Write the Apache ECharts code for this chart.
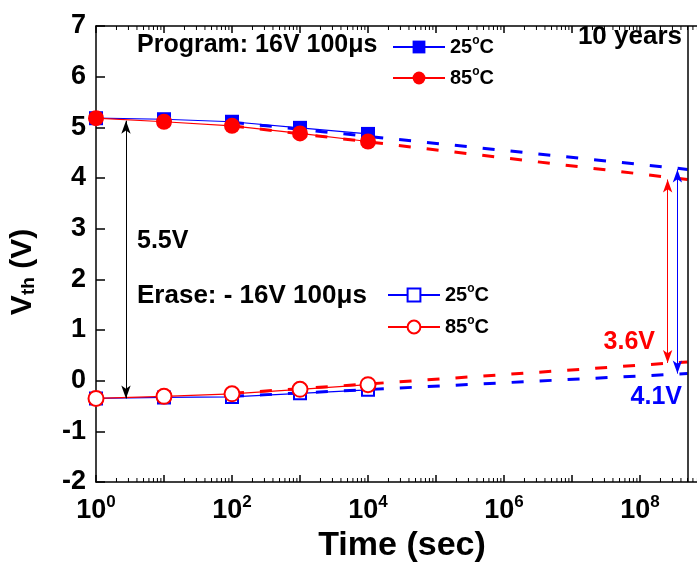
<!DOCTYPE html>
<html>
<head>
<meta charset="utf-8">
<script src="https://cdn.jsdelivr.net/npm/echarts@6/dist/echarts.min.js"></script>
<style>html,body{margin:0;padding:0;background:#fff}#c{width:697px;height:566px}</style>
</head>
<body>
<div id="c"></div>
<script>
// ---- data ----
var times = [1, 10, 100, 1000, 10000];
var prog25 = [5.18, 5.16, 5.11, 4.99, 4.87];
var prog85 = [5.18, 5.11, 5.03, 4.88, 4.72];
var erase25 = [-0.35, -0.33, -0.32, -0.25, -0.18];
var erase85 = [-0.35, -0.31, -0.26, -0.17, -0.08];
var fitTimes = [100, 5e8];
var progFit25 = [5.10, 4.17];
var progFit85 = [5.03, 3.97];
var eraseFit25 = [-0.31, 0.14];
var eraseFit85 = [-0.25, 0.37];
var tenYears = 5e8;
var windowTimes = [2.76, 2.55e8, 3.55e8];      // black, red, blue arrows
var windowTop = [5.13, 3.97, 4.17];
var windowBottom = [-0.35, 0.35, 0.14];
var minorMult = [2, 3, 4, 5, 6, 7, 8, 9];
var decades = [1, 10, 100, 1e3, 1e4, 1e5, 1e6, 1e7, 1e8];
var yTicks = [-2, -1, 0, 1, 2, 3, 4, 5, 6, 7];

function pairs(xs, ys) { return xs.map(function (x, i) { return [x, ys[i]]; }); }

var FONT = 'Arial, "Liberation Sans", sans-serif';
var BLUE = '#0000ff', RED = '#ff0000';

var chart = echarts.init(document.getElementById('c'), null, {renderer: 'canvas'});

var legendText = {
  color: '#000', fontFamily: FONT, fontWeight: 'bold', fontSize: 20,
  rich: {
    n: {fontFamily: FONT, fontWeight: 'bold', fontSize: 20, color: '#000'},
    s: {fontFamily: FONT, fontWeight: 'bold', fontSize: 12, color: '#000', padding: [0, 0, 12, 0]}
  }
};
function legendFmt() { return '{n|25}{s|o}{n|C}'; }
function legendFmt85() { return '{n|85}{s|o}{n|C}'; }
function mkLegend(name, left, top, fmt) {
  return {data: [name], left: left, top: top, padding: 0, itemWidth: 52, itemHeight: 16,
    textStyle: legendText, formatter: fmt, selectedMode: false};
}

var textGraphics = [
  {type: 'text', left: 137, top: 33, style: {text: 'Program: 16V 100μs', font: 'bold 25px ' + FONT, fill: '#000'}},
  {type: 'text', left: 137, top: 283, style: {text: 'Erase: - 16V 100μs', font: 'bold 26px ' + FONT, fill: '#000'}},
  {type: 'text', left: 137, top: 229, style: {text: '5.5V', font: 'bold 25px ' + FONT, fill: '#000'}},
  {type: 'text', right: 15, top: 24, style: {text: '10 years', font: 'bold 26px ' + FONT, fill: '#000'}},
  {type: 'text', right: 42, top: 330, style: {text: '3.6V', font: 'bold 25px ' + FONT, fill: RED}},
  {type: 'text', right: 15, top: 385, style: {text: '4.1V', font: 'bold 25px ' + FONT, fill: BLUE}}
];

var option = {
  animation: false,
  backgroundColor: '#fff',
  grid: {left: 96, top: 26, width: 612, bottom: 84, outerBoundsMode: 'none', containLabel: false},
  legend: [
    mkLegend('Program 25', 392, 35, legendFmt),
    mkLegend('Program 85', 392, 66, legendFmt85),
    mkLegend('Erase 25', 387, 283, legendFmt),
    mkLegend('Erase 85', 387, 315, legendFmt85)
  ],
  xAxis: [{
    type: 'log', logBase: 10, min: 1, max: 1e9, interval: 1,
    position: 'bottom',
    name: 'Time (sec)', nameLocation: 'middle', nameGap: 43,
    nameTextStyle: {fontFamily: FONT, fontWeight: 'bold', fontSize: 34, color: '#000'},
    axisLine: {onZero: false, lineStyle: {color: '#000', width: 1.5}},
    axisTick: {inside: true, length: 7, lineStyle: {color: '#000', width: 1.5}},
    splitLine: {show: false},
    axisLabel: {
      margin: 12, color: '#000',
      formatter: function (v) {
        var n = Math.round(Math.log(v) / Math.LN10);
        if (n % 2 !== 0) return '';
        return '{b|10}{s|' + n + '}';
      },
      rich: {
        b: {fontFamily: FONT, fontWeight: 'bold', fontSize: 27, color: '#000'},
        s: {fontFamily: FONT, fontWeight: 'bold', fontSize: 17, color: '#000', padding: [0, 0, 16, 0]}
      }
    }
  }, {
    type: 'log', logBase: 10, min: 1, max: 1e9, interval: 1,
    position: 'top',
    axisLine: {onZero: false, lineStyle: {color: '#000', width: 1.5}},
    axisTick: {inside: true, length: 7, lineStyle: {color: '#000', width: 1.5}},
    axisLabel: {show: false},
    splitLine: {show: false}
  }],
  yAxis: {
    type: 'value', min: yTicks[0], max: yTicks[yTicks.length - 1], interval: 1,
    name: '{v|V}{t|th}{v| (V)}', nameLocation: 'middle', nameGap: 58, nameRotate: 90,
    nameTextStyle: {
      padding: [0, 36, 0, 0],
      rich: {
        v: {fontFamily: FONT, fontWeight: 'bold', fontSize: 30, color: '#000'},
        t: {fontFamily: FONT, fontWeight: 'bold', fontSize: 19, color: '#000', padding: [12, 0, 0, 0]}
      }
    },
    axisLine: {show: true, onZero: false, lineStyle: {color: '#000', width: 1.5}},
    axisTick: {show: true, inside: true, length: 9, lineStyle: {color: '#000', width: 1.5}},
    splitLine: {show: false},
    axisLabel: {margin: 10, color: '#000', fontFamily: FONT, fontWeight: 'bold', fontSize: 27}
  },
  series: [
    {
      name: 'Program 25', type: 'line', data: pairs(times, prog25), z: 3,
      symbol: 'rect', symbolSize: 14, color: BLUE,
      lineStyle: {color: BLUE, width: 1.2}, itemStyle: {color: BLUE}
    },
    {
      name: 'Program 85', type: 'line', data: pairs(times, prog85), z: 4,
      symbol: 'circle', symbolSize: 16, color: RED,
      lineStyle: {color: RED, width: 1.2}, itemStyle: {color: RED}
    },
    {
      name: 'Erase 25', type: 'line', data: pairs(times, erase25), z: 3,
      symbol: 'emptyRect', symbolSize: 12, color: BLUE, showAllSymbol: true,
      lineStyle: {color: BLUE, width: 1.2}, itemStyle: {color: BLUE, borderWidth: 1}
    },
    {
      name: 'Erase 85', type: 'line', data: pairs(times, erase85), z: 4,
      symbol: 'emptyCircle', symbolSize: 15, color: RED,
      lineStyle: {color: RED, width: 1.2}, itemStyle: {color: RED, borderWidth: 1.2}
    },
    {
      name: 'fitP25', type: 'line', data: pairs(fitTimes, progFit25), z: 2, symbol: 'none',
      lineStyle: {color: BLUE, width: 3, type: [12, 16]},
      markLine: {
        silent: true, animation: false, label: {show: false},
        symbol: ['arrow', 'arrow'], symbolSize: [7, 13],
        data: [
          [{coord: [windowTimes[0], windowTop[0]], lineStyle: {color: '#000', width: 1, type: 'solid'}},
           {coord: [windowTimes[0], windowBottom[0]]}],
          [{coord: [windowTimes[1], windowTop[1]], lineStyle: {color: RED, width: 1, type: 'solid'}},
           {coord: [windowTimes[1], windowBottom[1]]}],
          [{coord: [windowTimes[2], windowTop[2]], lineStyle: {color: BLUE, width: 1, type: 'solid'}},
           {coord: [windowTimes[2], windowBottom[2]]}],
          [{coord: [tenYears, 7], symbol: 'none', lineStyle: {color: '#000', width: 1.5, type: 'solid'}},
           {coord: [tenYears, -2], symbol: 'none'}]
        ]
      }
    },
    {
      name: 'fitP85', type: 'line', data: pairs(fitTimes, progFit85), z: 2, symbol: 'none',
      lineStyle: {color: RED, width: 3, type: [12, 16]}
    },
    {
      name: 'fitE25', type: 'line', data: pairs(fitTimes, eraseFit25), z: 2, symbol: 'none',
      lineStyle: {color: BLUE, width: 3, type: [12, 16]}
    },
    {
      name: 'fitE85', type: 'line', data: pairs(fitTimes, eraseFit85), z: 2, symbol: 'none',
      lineStyle: {color: RED, width: 3, type: [12, 16]}
    }
  ],
  graphic: textGraphics
};
chart.setOption(option);

// minor log ticks (2..9 x 10^k) placed through the axis scale
var tickGraphics = [];
var yBottom = chart.convertToPixel({yAxisIndex: 0}, yTicks[0]);
var yTop = chart.convertToPixel({yAxisIndex: 0}, yTicks[yTicks.length - 1]);
decades.forEach(function (d) {
  minorMult.forEach(function (m) {
    var px = chart.convertToPixel({xAxisIndex: 0}, d * m);
    if (px == null || isNaN(px)) return;
    tickGraphics.push({type: 'line', silent: true, z: 10,
      shape: {x1: px, y1: yBottom, x2: px, y2: yBottom - 4}, style: {stroke: '#000', lineWidth: 1}});
    tickGraphics.push({type: 'line', silent: true, z: 10,
      shape: {x1: px, y1: yTop, x2: px, y2: yTop + 4}, style: {stroke: '#000', lineWidth: 1}});
  });
});
chart.setOption({graphic: textGraphics.concat(tickGraphics)});
</script>
</body>
</html>
